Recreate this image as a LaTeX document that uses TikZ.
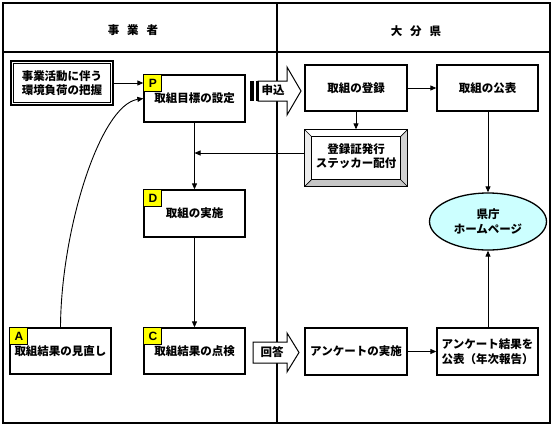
\documentclass[tikz,border=0pt]{standalone}
\usepackage{fontspec}
\newfontfamily\jp{Noto Sans CJK JP}
\newfontfamily\lat{Liberation Sans}
\usetikzlibrary{arrows.meta,shapes.geometric}
\definecolor{hpcyan}{RGB}{204,255,255}
\definecolor{tagyellow}{RGB}{255,255,0}
\begin{document}
\begin{tikzpicture}[x=1pt,y=-1pt,
  jpfont/.style={font=\jp\bfseries\fontsize{11.5}{14.5}\selectfont},
  box/.style={draw, line width=1.3pt, fill=white, minimum width=101pt, minimum height=47pt, inner sep=0pt, align=center, jpfont},
  tag/.style={draw, line width=1pt, fill=tagyellow, minimum width=18pt, minimum height=17pt, inner sep=0pt, anchor=north west, font=\lat\bfseries\fontsize{12}{12}\selectfont},
  arr/.style={-{Triangle[length=6pt,width=5pt]}, line width=0.9pt},
  frame/.style={line width=1.3pt},
  blockarrow/.style={draw, line width=1pt, fill=white},
  lbl/.style={inner sep=0pt, align=center, jpfont}
]
\useasboundingbox (0,0) rectangle (555,426);
\fill[white] (0,0) rectangle (555,426);
% frame
\draw[frame] (3,3) rectangle (550,423);
\draw[frame] (3,52) -- (550,52);
\draw[frame] (277,3) -- (277,423);
\node[lbl] (h1) at (133,30) {事\hspace{8pt}業\hspace{8pt}者};
\node[lbl] (h2) at (416,31) {大\hspace{8pt}分\hspace{8pt}県};

% left column
\node[box, line width=2.2pt, minimum width=102pt, minimum height=44pt] (lb) at (62,83) {事業活動に伴う\\環境負荷の把握};
\draw[line width=0.9pt] ([shift={(4,4)}]lb.north west) rectangle ([shift={(-4,-4)}]lb.south east);
\node[box] (P) at (194.5,98.5) {取組目標の設定};
\node[tag] (Pt) at (P.north west) {P};
\node[box] (D) at (194.5,213.5) {取組の実施};
\node[tag] (Dt) at (D.north west) {D};
\node[box, minimum height=46pt] (C) at (194.5,351) {取組結果の点検};
\node[tag] (Ct) at (C.north west) {C};
\node[box, minimum height=46pt] (A) at (60.5,351) {取組結果の見直し};
\node[tag] (At) at (A.north west) {A};

% right column
\node[box, minimum width=102pt, minimum height=46pt] (reg) at (356,88) {取組の登録};
\node[box, minimum height=46pt] (pub) at (487.5,88) {取組の公表};
\node[draw, line width=1.3pt, minimum width=102pt, minimum height=56pt, inner sep=0pt] (cert) at (356,158) {};
\coordinate (cNW) at ([shift={(7,7)}]cert.north west);
\coordinate (cNE) at ([shift={(-7,7)}]cert.north east);
\coordinate (cSW) at ([shift={(7,-7)}]cert.south west);
\coordinate (cSE) at ([shift={(-7,-7)}]cert.south east);
\fill[white] (cert.north west) -- (cert.north east) -- (cNE) -- (cNW) -- cycle;
\fill[gray!15] (cert.north west) -- (cNW) -- (cSW) -- (cert.south west) -- cycle;
\fill[gray!45] (cert.south west) -- (cSW) -- (cSE) -- (cert.south east) -- cycle;
\fill[gray!35] (cert.north east) -- (cNE) -- (cSE) -- (cert.south east) -- cycle;
\draw[line width=1.3pt] (cert.north west) rectangle (cert.south east);
\draw[line width=1pt] (cNW) rectangle (cSE);
\draw[line width=0.7pt] (cert.north west) -- (cNW) (cert.north east) -- (cNE) (cert.south west) -- (cSW) (cert.south east) -- (cSE);
\node[lbl] (certtext) at (356,156) {登録証発行\\ステッカー配付};
\node[draw, line width=1.3pt, ellipse, fill=hpcyan, minimum width=117pt, minimum height=57pt, inner sep=0pt, align=center, jpfont] (hp) at (488,221.5) {県庁\\ホームページ};
\node[box, minimum width=102pt] (enq) at (356,351.5) {アンケートの実施};
\node[box] (res) at (487.5,351.5) {アンケート結果を\\公表（年次報告）};

% block arrows
\draw[blockarrow] (258,81) -- (287,81) -- (287,67) -- (301,91) -- (287,115) -- (287,101) -- (258,101) -- cycle;
\fill[black] (250,81) rectangle (254,101);
\fill[black] (256,81) rectangle (258.5,101);
\node[lbl] (moshi) at (273,90) {申込};
\draw[blockarrow] (253,342) -- (287,342) -- (287,333) -- (299,352.5) -- (287,372) -- (287,363) -- (253,363) -- cycle;
\node[lbl] (kaito) at (272,352.5) {回答};

% connectors
\draw[arr] (lb.east) -- (lb.east -| P.west);
\draw[arr] (A.north) .. controls (61,230) and (100,105) .. (P.west);
\draw[arr] (P.south) -- (D.north);
\draw[arr] (D.south) -- (C.north);
\draw[arr] ([yshift=5pt]cert.west) -- ([yshift=5pt]cert.west -| P.south);
\draw[arr] (reg.south) -- (cert.north);
\draw[arr] (reg.east) -- (pub.west);
\draw[arr] (pub.south -| hp.north) -- (hp.north);
\draw[arr] (res.north -| hp.south) -- (hp.south);
\draw[arr] (enq.east) -- (res.west);
\end{tikzpicture}
\end{document}
